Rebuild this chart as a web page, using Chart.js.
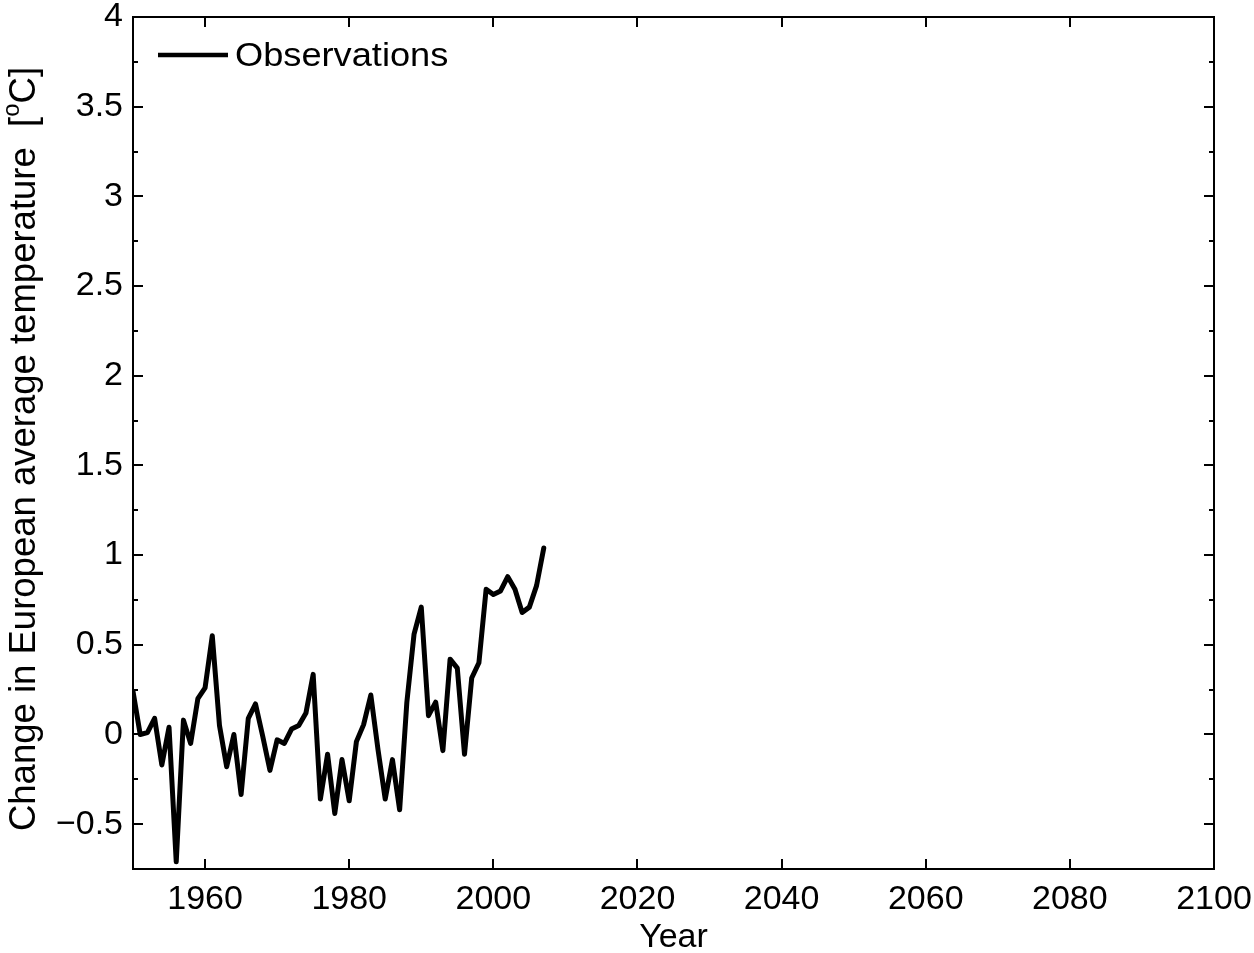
<!DOCTYPE html>
<html>
<head>
<meta charset="utf-8">
<script src="https://cdn.jsdelivr.net/npm/chart.js@4/dist/chart.umd.min.js"></script>
<style>
  html, body { margin: 0; padding: 0; background: #ffffff; }
  #wrap { width: 1254px; height: 953px; }
</style>
</head>
<body>
<div id="wrap"><canvas id="c" width="1254" height="953"></canvas></div>
<script>
// Annual European mean temperature change (deg C), 1950-2007
const years = [];
for (let y = 1950; y <= 2007; y++) years.push(y);
const observations = [
  0.24, 0.00, 0.01, 0.09, -0.17, 0.04, -0.71, 0.08, -0.05, 0.20,
  0.26, 0.55, 0.05, -0.18, 0.00, -0.335, 0.09, 0.17, -0.01, -0.20,
  -0.03, -0.05, 0.03, 0.05, 0.12, 0.335, -0.36, -0.11, -0.44, -0.14,
  -0.37, -0.04, 0.055, 0.22, -0.085, -0.36, -0.14, -0.42, 0.18, 0.56,
  0.71, 0.105, 0.18, -0.09, 0.42, 0.37, -0.11, 0.315, 0.40, 0.81,
  0.78, 0.80, 0.88, 0.81, 0.68, 0.71, 0.83, 1.04
];
const seriesName = 'Observations';

// Axis ticks
const xTicks = [1960, 1980, 2000, 2020, 2040, 2060, 2080, 2100];
const yTicks = [-0.5, 0, 0.5, 1, 1.5, 2, 2.5, 3, 3.5, 4];
const yMinorTicks = [-0.75, -0.25, 0.25, 0.75, 1.25, 1.75, 2.25, 2.75, 3.25, 3.75];
const xRange = [1950, 2100];
const yRange = [-0.75, 4];

const FONT = "'Liberation Sans', Arial, Helvetica, sans-serif";
const TICK_SIZE = 34;

const points = years.map((y, i) => ({ x: y, y: observations[i] }));

// Box, inward ticks, legend and y title in MATLAB style
const framePlugin = {
  id: 'frame',
  afterDraw(chart) {
    const { ctx, chartArea: a, scales: { x, y } } = chart;
    ctx.save();
    ctx.strokeStyle = '#000';
    ctx.lineWidth = 2;
    ctx.lineCap = 'butt';
    ctx.strokeRect(a.left, a.top, a.right - a.left, a.bottom - a.top);

    ctx.beginPath();
    xTicks.forEach(v => {
      const px = Math.round(x.getPixelForValue(v));
      ctx.moveTo(px, a.bottom); ctx.lineTo(px, a.bottom - 10);
      ctx.moveTo(px, a.top); ctx.lineTo(px, a.top + 10);
    });
    yTicks.forEach(v => {
      const py = Math.round(y.getPixelForValue(v));
      ctx.moveTo(a.left, py); ctx.lineTo(a.left + 10, py);
      ctx.moveTo(a.right, py); ctx.lineTo(a.right - 10, py);
    });
    yMinorTicks.forEach(v => {
      const py = Math.round(y.getPixelForValue(v));
      ctx.moveTo(a.left, py); ctx.lineTo(a.left + 5, py);
      ctx.moveTo(a.right, py); ctx.lineTo(a.right - 5, py);
    });
    ctx.stroke();

    // legend
    const ds = chart.data.datasets[0];
    ctx.beginPath();
    ctx.lineWidth = 4.5;
    ctx.strokeStyle = ds.borderColor;
    ctx.moveTo(a.left + 25, a.top + 38);
    ctx.lineTo(a.left + 95, a.top + 38);
    ctx.stroke();
    ctx.save();
    ctx.fillStyle = '#000';
    ctx.font = `34px ${FONT}`;
    ctx.textBaseline = 'middle';
    ctx.textAlign = 'left';
    ctx.translate(a.left + 102, a.top + 40);
    ctx.scale(1.065, 1);
    ctx.fillText(ds.label, 0, 0);
    ctx.restore();

    // y-axis title with superscript degree "o"
    const main = 'Change in European average temperature  [';
    const sup = 'o';
    const tail = 'C]';
    ctx.fillStyle = '#000';
    ctx.font = `36.5px ${FONT}`;
    const w1 = ctx.measureText(main).width;
    const w3 = ctx.measureText(tail).width;
    ctx.font = `24px ${FONT}`;
    const w2 = ctx.measureText(sup).width;
    const total = w1 + w2 + w3;
    ctx.translate(25, 449);
    ctx.rotate(-Math.PI / 2);
    ctx.textAlign = 'left';
    ctx.textBaseline = 'middle';
    let sx = -total / 2;
    ctx.font = `36.5px ${FONT}`;
    ctx.fillText(main, sx, 0);
    sx += w1;
    ctx.font = `24px ${FONT}`;
    ctx.fillText(sup, sx, -13);
    sx += w2;
    ctx.font = `36.5px ${FONT}`;
    ctx.fillText(tail, sx, 0);
    ctx.restore();
  }
};

new Chart(document.getElementById('c'), {
  type: 'line',
  data: {
    datasets: [{
      label: seriesName,
      data: points,
      borderColor: '#000000',
      borderWidth: 5,
      borderJoinStyle: 'round',
      borderCapStyle: 'round',
      pointRadius: 0,
      tension: 0,
      fill: false
    }]
  },
  options: {
    responsive: false,
    animation: false,
    devicePixelRatio: 1,
    layout: { padding: { top: 17, right: 40, left: 0, bottom: 0 } },
    plugins: { legend: { display: false }, tooltip: { enabled: false } },
    scales: {
      x: {
        type: 'linear',
        min: xRange[0],
        max: xRange[1],
        afterBuildTicks: s => { s.ticks = xTicks.map(v => ({ value: v })); },
        afterFit: s => { s.height = 84; s.paddingLeft = 0; s.paddingRight = 0; },
        grid: { display: false, drawTicks: false },
        border: { display: false },
        ticks: {
          color: '#000',
          font: { family: FONT, size: TICK_SIZE },
          padding: 10,
          maxRotation: 0,
          autoSkip: false,
          callback: v => String(v)
        },
        title: {
          display: true,
          text: 'Year',
          color: '#000',
          font: { family: FONT, size: TICK_SIZE, lineHeight: 0.9 },
          padding: { top: 0, bottom: 0 }
        }
      },
      y: {
        type: 'linear',
        min: yRange[0],
        max: yRange[1],
        afterBuildTicks: s => { s.ticks = yTicks.map(v => ({ value: v })); },
        afterFit: s => { s.width = 133; s.paddingTop = 0; s.paddingBottom = 0; },
        grid: { display: false, drawTicks: false },
        border: { display: false },
        ticks: {
          color: '#000',
          font: { family: FONT, size: TICK_SIZE },
          padding: 10,
          autoSkip: false,
          callback: v => (v < 0 ? '\u2212' + Math.abs(v) : String(v))
        }
      }
    }
  },
  plugins: [framePlugin]
});
</script>
</body>
</html>
